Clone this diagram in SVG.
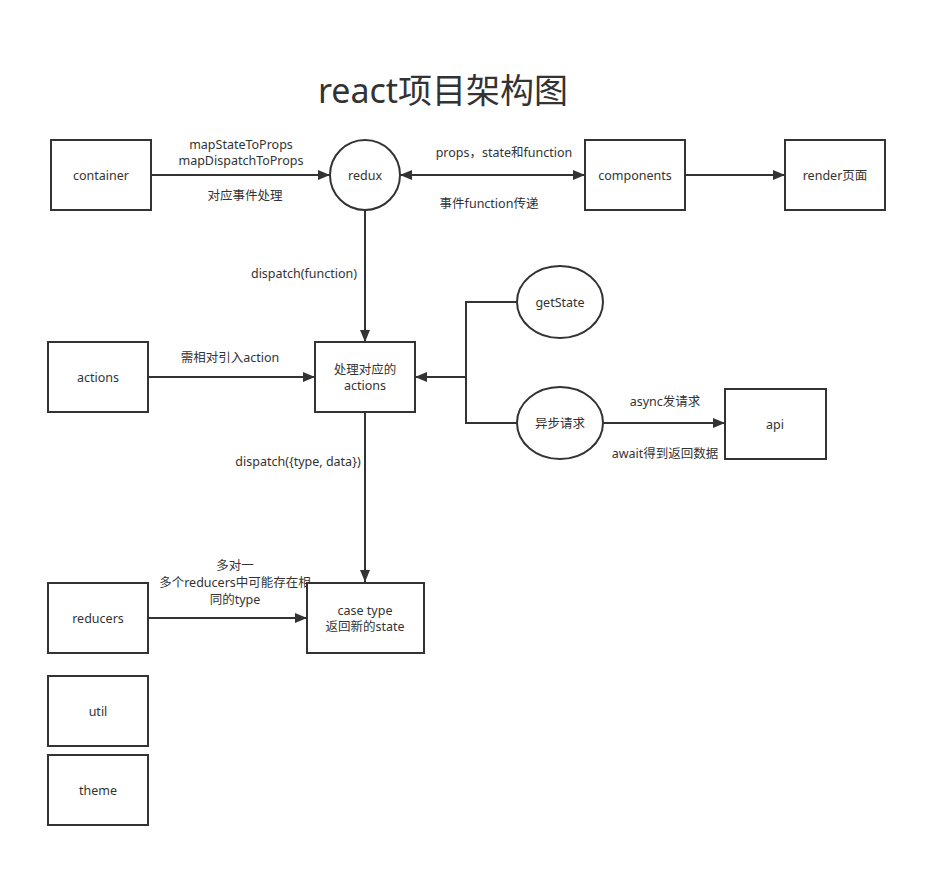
<svg xmlns="http://www.w3.org/2000/svg" width="947" height="887" viewBox="0 0 947 887">
<style>
.n{fill:#fff;stroke:#333;stroke-width:2}
.c{fill:none;stroke:#333;stroke-width:2}
text{font-family:"Noto Sans","Noto Sans CJK SC",sans-serif;font-size:12.5px;fill:#333;text-anchor:middle}
.t{font-size:34px}
</style>
<defs>
<marker id="a" viewBox="0 0 12 10" refX="12" refY="5" markerWidth="12" markerHeight="10" markerUnits="userSpaceOnUse" orient="auto-start-reverse"><path d="M0,0L12,5L0,10z" fill="#333"/></marker>
</defs>
<rect width="947" height="887" fill="#fff"/>
<text class="t" x="443" y="103">react项目架构图</text>
<g id="connectors">
<path class="c" d="M151,175H330" marker-end="url(#a)"/>
<path class="c" d="M400,175H585" marker-start="url(#a)" marker-end="url(#a)"/>
<path class="c" d="M685,175H785" marker-end="url(#a)"/>
<path class="c" d="M365,210V342" marker-end="url(#a)"/>
<path class="c" d="M148,377H315" marker-end="url(#a)"/>
<path class="c" d="M517,302H466V423H517"/>
<path class="c" d="M466,377H415" marker-end="url(#a)"/>
<path class="c" d="M603,423H725" marker-end="url(#a)"/>
<path class="c" d="M365,412V582" marker-end="url(#a)"/>
<path class="c" d="M148,618H307" marker-end="url(#a)"/>
<text x="241" y="149">mapStateToProps</text>
<text x="241" y="165">mapDispatchToProps</text>
<text x="245" y="200">对应事件处理</text>
<text x="504" y="157">props，state和function</text>
<text x="489" y="208">事件function传递</text>
<text x="304" y="278">dispatch(function)</text>
<text x="230" y="362">需相对引入action</text>
<text x="665" y="406">async发请求</text>
<text x="665" y="458">await得到返回数据</text>
<text x="298" y="466">dispatch({type, data})</text>
<text x="235" y="570">多对一</text>
<text x="235" y="587">多个reducers中可能存在相</text>
<text x="235" y="604">同的type</text>
</g>
<g id="container"><rect class="n" x="51" y="140" width="100" height="70"/><text x="101" y="180">container</text></g>
<g id="redux"><circle class="n" cx="365" cy="175" r="35"/><text x="365" y="180">redux</text></g>
<g id="components"><rect class="n" x="585" y="140" width="100" height="70"/><text x="635" y="180">components</text></g>
<g id="render"><rect class="n" x="785" y="140" width="100" height="70"/><text x="835" y="180">render页面</text></g>
<g id="actions"><rect class="n" x="48" y="342" width="100" height="70"/><text x="98" y="382">actions</text></g>
<g id="handle"><rect class="n" x="315" y="342" width="100" height="70"/><text x="365" y="374">处理对应的</text><text x="365" y="390">actions</text></g>
<g id="getState"><ellipse class="n" cx="560" cy="302" rx="43" ry="36"/><text x="560" y="307">getState</text></g>
<g id="async"><ellipse class="n" cx="560" cy="423" rx="43" ry="36"/><text x="560" y="428">异步请求</text></g>
<g id="api"><rect class="n" x="725" y="389" width="101" height="70"/><text x="775" y="429">api</text></g>
<g id="reducers"><rect class="n" x="48" y="583" width="100" height="70"/><text x="98" y="623">reducers</text></g>
<g id="case"><rect class="n" x="307" y="583" width="117" height="70"/><text x="365" y="615">case type</text><text x="365" y="631">返回新的state</text></g>
<g id="util"><rect class="n" x="48" y="676" width="100" height="70"/><text x="98" y="716">util</text></g>
<g id="theme"><rect class="n" x="48" y="755" width="100" height="70"/><text x="98" y="795">theme</text></g>
</svg>
